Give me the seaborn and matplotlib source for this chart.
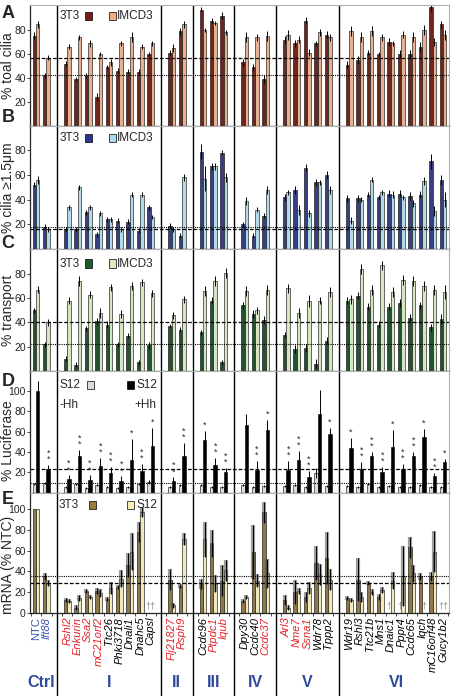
import numpy as np
import pandas as pd
import seaborn as sns
import matplotlib.pyplot as plt
import matplotlib.transforms as mtransforms
from matplotlib.patches import Rectangle
from matplotlib import font_manager

sns.set_style("ticks")
plt.rcParams["font.family"] = ["Liberation Sans", "DejaVu Sans"]
installed = {f.name for f in font_manager.fontManager.ttflist}
NARROW = ["Liberation Sans Narrow", "Liberation Sans", "DejaVu Sans"] \
    if "Liberation Sans Narrow" in installed else ["Liberation Sans", "DejaVu Sans"]

# ---- data ----
group_names = ["Ctrl", "I", "II", "III", "IV", "V", "VI"]
group_sizes = [2, 9, 2, 3, 3, 5, 10]
genes = ["NTC", "Ift88",
         "Rshl2", "Enkurin", "Ssa2", "mC21orf2", "Ttc26", "Phki3718", "Dnali1", "Dnahc5", "Capsl",
         "Flj21827", "Rsph9",
         "Ccdc96", "Ptpdc1", "Iqub",
         "Dpy30", "Ccdc40", "Ccdc37",
         "Arl3", "Nme7", "Ssna1", "Wdr78", "Tppp2",
         "Wdr19", "Rshl3", "Ttc21b", "Mns1", "Dnaic1", "Pppr4", "Ccdc65", "Iqch", "mC16orf48", "Gucy1b2"]
red_genes = ["Rshl2", "Enkurin", "Ssa2", "mC21orf2", "Flj21827", "Rsph9", "Ptpdc1", "Iqub",
             "Ccdc37", "Arl3", "Nme7", "Ssna1"]
blue_genes = ["NTC", "Ift88"]

# A: % total cilia
cilia_3t3 = [75, 42, 52, 39, 42, 24, 49, 46, 45, 45, 60, 61, 79, 97, 88, 92, 53, 49, 39,
             72, 69, 88, 69, 76, 51, 55, 61, 60, 70, 60, 60, 66, 99, 85]
cilia_imcd3 = [85, 57, 66, 74, 69, 60, 53, 69, 74, 66, 69, 65, 85, 80, 86, 78, 74, 74, 75,
               76, 72, 61, 78, 74, 79, 74, 79, 74, 69, 76, 74, 80, 70, 76]
cilia_3t3_err = [3, 2, 2, 2, 2, 3, 2, 2, 2, 2, 2, 2, 3, 2, 2, 3, 3, 3, 3,
                 3, 3, 3, 2, 3, 3, 3, 2, 2, 3, 3, 3, 4, 3, 3]
cilia_imcd3_err = [3, 2, 2, 2, 3, 2, 3, 2, 4, 2, 2, 3, 3, 2, 2, 2, 4, 3, 4,
                   4, 3, 3, 3, 3, 4, 4, 4, 3, 2, 3, 4, 4, 3, 4]

# B: % cilia >= 1.5 um
long_3t3 = [52, 18, 16, 16, 30, 12, 24, 23, 22, 15, 34, 19, 11, 79, 67, 78, 20, 11, 27,
            42, 48, 66, 54, 60, 41, 41, 44, 42, 45, 45, 43, 44, 71, 56]
long_imcd3 = [56, 16, 34, 50, 34, 29, 24, 16, 44, 44, 26, 16, 58, 57, 67, 58, 39, 32, 48,
              46, 32, 29, 54, 48, 23, 40, 56, 46, 44, 42, 37, 55, 31, 40]
long_3t3_err = [2, 2, 2, 2, 2, 2, 2, 2, 2, 2, 2, 2, 2, 6, 3, 2, 2, 2, 2,
                3, 3, 3, 3, 3, 3, 3, 2, 2, 3, 3, 3, 3, 6, 4]
long_imcd3_err = [3, 2, 2, 2, 2, 2, 2, 2, 2, 2, 2, 2, 3, 10, 3, 4, 3, 2, 3,
                  2, 4, 3, 2, 3, 3, 2, 2, 2, 3, 2, 3, 3, 4, 6]

# C: % transport
transport_3t3 = [50, 22, 10, 5, 35, 41, 38, 22, 29, 7, 21, 37, 34, 32, 58, 7, 54, 47, 42,
                 30, 18, 19, 6, 25, 58, 62, 53, 38, 53, 56, 44, 54, 36, 43]
transport_imcd3 = [67, 40, 58, 74, 63, 48, 69, 47, 70, 73, 64, 46, 59, 66, 74, 81, 66, 50, 67,
                   68, 48, 58, 58, 65, 59, 84, 67, 87, 65, 75, 74, 70, 67, 65]
transport_3t3_err = [2, 2, 2, 2, 2, 3, 3, 2, 2, 2, 3, 2, 2, 2, 3, 2, 3, 3, 3,
                     2, 3, 3, 4, 3, 3, 3, 3, 3, 3, 3, 3, 3, 3, 4]
transport_imcd3_err = [3, 3, 3, 4, 3, 4, 3, 3, 3, 3, 3, 3, 3, 4, 4, 4, 4, 3, 4,
                       4, 4, 5, 3, 4, 4, 4, 4, 4, 4, 4, 4, 4, 4, 6]

# D: % luciferase
luc_minus = [8, 9, 5, 8, 4, 7, 5, 4, 5, 8, 10, 5, 7, 7, 5, 5, 7, 5, 6,
             6, 7, 5, 19, 6, 6, 5, 8, 5, 6, 5, 5, 7, 5, 5]
luc_plus = [100, 23, 13, 36, 12, 26, 19, 11, 32, 21, 46, 11, 36, 52, 27, 20, 67, 22, 62,
            22, 32, 15, 77, 58, 44, 23, 36, 20, 45, 23, 36, 55, 16, 30]
luc_minus_err = [1, 1, 1, 1, 1, 1, 1, 1, 1, 1, 2, 1, 1, 1, 1, 1, 1, 1, 1,
                 1, 1, 1, 5, 1, 1, 1, 1, 1, 1, 1, 1, 1, 1, 1]
luc_plus_err = [10, 4, 4, 6, 5, 8, 6, 5, 21, 7, 18, 4, 13, 9, 7, 4, 10, 9, 10,
                9, 9, 6, 24, 6, 10, 7, 4, 5, 17, 5, 4, 8, 3, 3]
luc_stars = [0, 2, 2, 2, 2, 2, 2, 2, 1, 2, 1, 2, 2, 1, 2, 2, 0, 2, 1,
             2, 2, 2, 0, 1, 1, 2, 2, 2, 1, 2, 2, 1, 2, 1]

# E: mRNA (% NTC); nan = not detected (dagger)
nan = np.nan
mrna_3t3 = [100, 35, 12, 5, 21, 21, 13, 25, 46, 78, nan, 32, 26, 28, 67, 31, 11, 59, 97,
            12, 20, 15, 48, 53, 14, 32, 29, 15, nan, nan, 63, 35, 35, nan]
mrna_s12 = [100, 29, 11, 14, 15, 19, 24, 33, 59, 97, nan, 7, 71, 71, 28, 41, 15, 31, 38,
            5, 21, 24, 37, 32, 12, 15, 20, 22, 31, 35, 38, nan, 59, nan]
mrna_3t3_err = [0, 3, 2, 2, 2, 3, 2, 2, 12, 10, 0, 10, 2, 5, 13, 15, 2, 26, 10,
                5, 12, 5, 16, 25, 2, 21, 2, 3, 0, 0, 10, 3, 4, 0]
mrna_s12_err = [0, 3, 2, 3, 2, 4, 6, 8, 18, 5, 0, 2, 6, 17, 8, 10, 2, 6, 14,
                2, 3, 6, 10, 10, 2, 5, 3, 3, 8, 29, 8, 0, 20, 0]

# ---- positions: one empty slot between groups ----
positions, separators, group_centers = [], [], []
p = 0
for size in group_sizes:
    group_centers.append(p + (size - 1) / 2)
    positions.extend(range(p, p + size))
    p += size
    separators.append(p)
    p += 1
separators = separators[:-1]
positions = np.array(positions, dtype=float)
xlim = (-0.57, positions[-1] + 0.57)
bar_w = 0.66
off = bar_w / 4

fig = plt.figure(figsize=(4.56, 6.96), dpi=100)
L, W = 30 / 456, 419 / 456


def panel_axes(top_px, bot_px):
    return fig.add_axes([L, 1 - bot_px / 696, W, (bot_px - top_px) / 696])


def draw_panel(ax, left, right, left_err, right_err, colors, ylim, yticks, ylabel,
               thick_err=False, label_y=0.5):
    n = len(genes)
    df = pd.DataFrame({"pos": np.concatenate([positions, positions]),
                       "value": list(left) + list(right),
                       "cond": ["a"] * n + ["b"] * n})
    sns.barplot(data=df, x="pos", y="value", hue="cond", hue_order=["a", "b"],
                palette=colors, native_scale=True, width=bar_w, errorbar=None,
                edgecolor="black", linewidth=0.4, legend=False, ax=ax)
    for sgn, vals, errs in [(-1, left, left_err), (1, right, right_err)]:
        vals = np.array(vals, dtype=float)
        errs = np.array(errs, dtype=float)
        ok = ~np.isnan(vals) & (errs > 0)
        if thick_err:
            ax.errorbar(positions[ok] + sgn * off, vals[ok], yerr=errs[ok], fmt="none",
                        ecolor=(0.3, 0.3, 0.3, 0.55), elinewidth=3, capsize=0)
        ax.errorbar(positions[ok] + sgn * off, vals[ok], yerr=errs[ok], fmt="none",
                    ecolor="black", elinewidth=0.7, capsize=0)
    # reference lines from the Ift88 control
    ax.axhline(left[1], color="black", ls=(0, (1, 1)), lw=0.8)
    ax.axhline(right[1], color="black", ls=(0, (3, 1.5)), lw=0.9)
    for s in separators:
        ax.axvline(s, color="black", lw=1.0)
    ax.set_xlim(*xlim)
    ax.set_ylim(*ylim)
    ax.set_xticks(np.arange(-0.5, positions[-1] + 0.6, 1.0))
    ax.set_xticklabels([])
    ax.set_xlabel("")
    ax.set_yticks(yticks)
    ax.set_yticklabels([str(t) for t in yticks], family=NARROW, fontsize=7.5)
    ax.tick_params(axis="y", length=2, width=0.6, pad=1)
    ax.tick_params(axis="x", length=2, width=0.6)
    ax.set_ylabel(ylabel, fontsize=10, family=NARROW, va="center")
    ax.yaxis.set_label_coords(-0.053, label_y)
    for side in ["top", "right"]:
        ax.spines[side].set_color("#b0b0b0")
        ax.spines[side].set_linewidth(0.8)
    for side in ["left", "bottom"]:
        ax.spines[side].set_linewidth(0.9)


def legend_pair(ax, y, left_lbl, left_col, right_lbl, right_col, xs=(2.3, 5.0, 7.3, 7.8)):
    tr = mtransforms.blended_transform_factory(ax.transData, ax.transAxes)
    ax.text(xs[0], y, left_lbl, transform=tr, fontsize=8.5, va="center", ha="left")
    ax.add_patch(Rectangle((xs[1] - 0.33, y - 0.035), 0.66, 0.07, transform=tr,
                           facecolor=left_col, edgecolor="black", lw=0.5))
    ax.add_patch(Rectangle((xs[2] - 0.33, y - 0.035), 0.66, 0.07, transform=tr,
                           facecolor=right_col, edgecolor="black", lw=0.5))
    ax.text(xs[3], y, right_lbl, transform=tr, fontsize=8.5, va="center", ha="left")


# A
axA = panel_axes(5, 125.6)
draw_panel(axA, cilia_3t3, cilia_imcd3, cilia_3t3_err, cilia_imcd3_err,
           ["#7b1c12", "#f4ac84"], (0, 101), [20, 40, 60, 80], "% toal cilia")
legend_pair(axA, 0.91, "3T3", "#7b1c12", "IMCD3", "#f4ac84")

# B
axB = panel_axes(125.6, 249.1)
draw_panel(axB, long_3t3, long_imcd3, long_3t3_err, long_imcd3_err,
           ["#2b3590", "#a9def0"], (0, 100), [20, 40, 60, 80], "% cilia ≥1.5μm")
legend_pair(axB, 0.9, "3T3", "#2b3590", "IMCD3", "#a9def0")

# C
axC = panel_axes(249.1, 370.9)
draw_panel(axC, transport_3t3, transport_imcd3, transport_3t3_err, transport_imcd3_err,
           ["#1d5a2c", "#d6ecbf"], (0, 100.5), [20, 40, 60, 80], "% transport")
legend_pair(axC, 0.88, "3T3", "#1d5a2c", "IMCD3", "#d6ecbf")

# D
axD = panel_axes(370.9, 492.5)
draw_panel(axD, luc_minus, luc_plus, luc_minus_err, luc_plus_err,
           ["#dcdcdc", "#000000"], (0, 120), [20, 40, 60, 80, 100], "% Luciferase",
           label_y=0.43)
legend_pair(axD, 0.885, "S12", "#dcdcdc", "S12", "#000000", xs=(2.3, 5.2, 9.1, 9.6))
trD = mtransforms.blended_transform_factory(axD.transData, axD.transAxes)
axD.text(2.3, 0.72, "-Hh", transform=trD, fontsize=8.5, va="center")
axD.text(9.4, 0.72, "+Hh", transform=trD, fontsize=8.5, va="center")
for x, v, e, k in zip(positions, luc_plus, luc_plus_err, luc_stars):
    if k:
        axD.text(x + off, v + e + 1, "\n".join(["*"] * k), fontsize=6.5, ha="center",
                 va="bottom", linespacing=0.6)

# E
axE = panel_axes(492.5, 612.7)
draw_panel(axE, mrna_3t3, mrna_s12, mrna_3t3_err, mrna_s12_err,
           ["#9a7a3e", "#f8efb4"], (0, 116), [0, 20, 40, 60, 80, 100], "mRNA (% NTC)",
           thick_err=True, label_y=0.40)
legend_pair(axE, 0.895, "3T3", "#9a7a3e", "S12", "#f8efb4", xs=(2.2, 5.4, 9.1, 9.6))
for x, a, b in zip(positions, mrna_3t3, mrna_s12):
    a_miss, b_miss = np.isnan(a), np.isnan(b)
    if a_miss and b_miss:
        axE.text(x, 2, "††", fontsize=6.5, ha="center", va="bottom", color="#888888")
    elif a_miss:
        axE.text(x - off, 2, "†", fontsize=6.5, ha="center", va="bottom", color="#888888")
    elif b_miss:
        axE.text(x + off, 2, "†", fontsize=6.5, ha="center", va="bottom", color="#888888")

# gene / group labels
axL = fig.add_axes([L, 0, W, 1 - 612.7 / 696])
axL.set_xlim(*xlim)
axL.set_ylim(0, 1)
axL.axis("off")
for s in separators:
    axL.axvline(s, color="black", lw=1.0)
for x, g in zip(positions, genes):
    col = "#e32228" if g in red_genes else ("#3a55a8" if g in blue_genes else "black")
    style = "normal" if g == "NTC" else "italic"
    axL.text(x, 0.95, g, rotation=90, ha="center", va="top", fontsize=8,
             color=col, style=style)
for c, name in zip(group_centers, group_names):
    axL.text(c, 0.16, name, ha="center", va="center", fontsize=11.5, family=NARROW,
             fontweight="bold", color="#2f4a9c")

# panel letters
for letter, ypx in zip("ABCDE", [13, 118, 243, 381, 500]):
    fig.text(8 / 456, 1 - ypx / 696, letter, fontsize=13, fontweight="bold",
             ha="center", va="center")

fig.savefig("out.png", dpi=100)
